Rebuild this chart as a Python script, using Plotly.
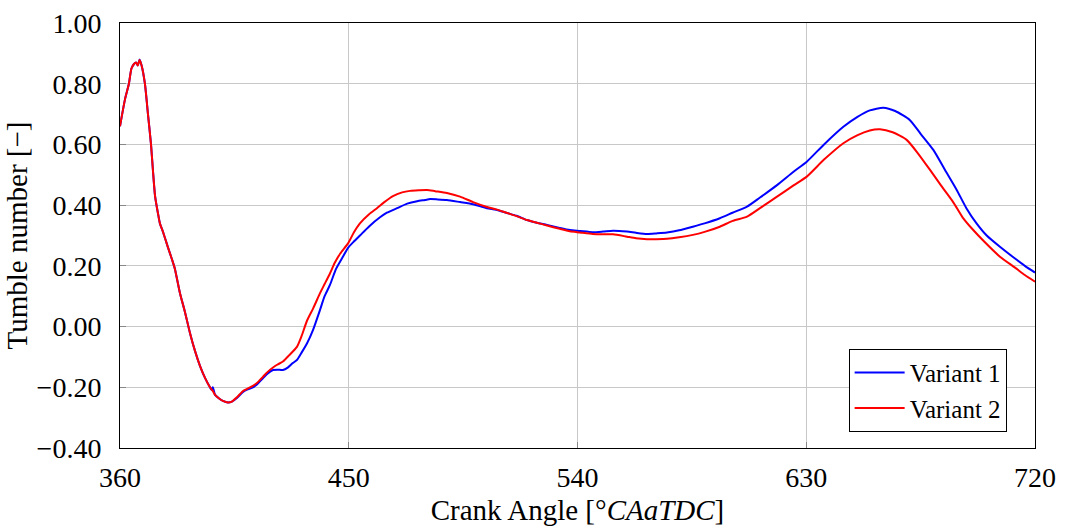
import plotly.graph_objects as go

# Variant 1 (blue)
x_v1 = [360, 362, 363.5, 364.5, 365.5, 366.3, 367, 367.7, 368.5, 369.8, 371, 372.2, 373, 373.8, 375,
        375.7, 377, 378.9, 380.5, 381.6, 383.6, 385.5, 387.5, 389.5, 391.5, 393.5, 395.4, 396, 396.5,
        397.4, 399, 400.5, 402.5, 404, 406, 408.4, 410, 412.3, 414, 416.3, 418, 420.2, 422, 424.1, 426,
        428, 429.6, 431.5, 433.6, 436, 438.7, 440.5, 442.6, 445, 447.7, 449.8, 452, 454.4, 458, 462.3,
        465, 469, 473, 476.9, 480, 482, 485, 488.6, 493.8, 498.9, 504.4, 508, 512.3, 516, 520.1, 524,
        528, 533, 537, 541, 546, 550, 554, 559.5, 563, 567.3, 571, 575.2, 580, 585.4, 590, 596, 601,
        606.7, 611.8, 618.5, 625, 630.2, 637, 644.6, 650, 655, 660.3, 665, 670.8, 675, 680, 685, 689.2,
        693, 697, 701, 706.2, 712, 716, 720]
y_v1 = [0.66, 0.75, 0.80, 0.85, 0.865, 0.87, 0.86, 0.88, 0.86, 0.80, 0.70, 0.60, 0.51, 0.43, 0.37,
        0.34, 0.31, 0.26, 0.22, 0.19, 0.11, 0.05, -0.02, -0.08, -0.13, -0.17, -0.20, -0.208, -0.2,
        -0.225, -0.237, -0.245, -0.25, -0.247, -0.235, -0.215, -0.208, -0.20, -0.19, -0.17, -0.155, -0.143, -0.142, -0.143, -0.135,
        -0.12, -0.11, -0.085, -0.055, -0.01, 0.055, 0.10, 0.137, 0.19, 0.23, 0.26, 0.28, 0.30, 0.33, 0.36,
        0.375, 0.39, 0.405, 0.413, 0.417, 0.42, 0.419, 0.417, 0.41, 0.403, 0.39, 0.385, 0.374, 0.365, 0.351, 0.342,
        0.335, 0.325, 0.318, 0.315, 0.311, 0.313, 0.316, 0.313, 0.309, 0.305, 0.307, 0.31, 0.317, 0.329, 0.34, 0.357, 0.375,
        0.395, 0.425, 0.466, 0.51, 0.543, 0.60, 0.658, 0.69, 0.712, 0.721, 0.71, 0.68, 0.635, 0.582, 0.51, 0.45,
        0.39, 0.34, 0.30, 0.263, 0.225, 0.20, 0.178]

# Variant 2 (red)
x_v2 = [360, 362, 363.5, 364.5, 365.5, 366.3, 367, 367.7, 368.5, 369.8, 371, 372.2, 373, 373.8, 375,
        375.7, 377, 378.9, 380.5, 381.6, 383.6, 385.5, 387.5, 389.5, 391.5, 393.5, 395.4, 396.5,
        397.4, 399, 400.5, 402.5, 404, 406, 408.4, 410, 412.3, 414, 416.3, 418, 420.2, 422, 424.1, 426.5,
        429.6, 431.5, 433.6, 436, 438.7, 440.5, 442.6, 444.5, 446.6, 449.8, 452, 454.4, 458, 461.1, 464,
        467.4, 471, 474.1, 477.5, 480.8, 484, 488.6, 493.8, 498.9, 504.4, 508, 512.3, 516, 520.1, 524,
        528, 533, 537, 541, 546, 550, 554, 559.5, 563, 567.3, 571, 575.2, 580, 585.4, 590, 596, 601,
        606.7, 611.8, 618.5, 625, 630.2, 637, 644.6, 650, 655, 659, 664, 669.5, 674, 678.7, 683, 687.8,
        691.5, 695.7, 700, 706.2, 712, 716, 720]
y_v2 = [0.66, 0.75, 0.80, 0.85, 0.865, 0.87, 0.86, 0.878, 0.86, 0.80, 0.70, 0.60, 0.51, 0.43, 0.37,
        0.34, 0.31, 0.26, 0.22, 0.19, 0.11, 0.05, -0.02, -0.08, -0.13, -0.17, -0.20, -0.212,
        -0.225, -0.237, -0.245, -0.25, -0.247, -0.233, -0.212, -0.205, -0.195, -0.185, -0.165, -0.15, -0.135, -0.125, -0.115, -0.095,
        -0.067, -0.03, 0.02, 0.06, 0.11, 0.14, 0.175, 0.21, 0.24, 0.275, 0.31, 0.34, 0.37, 0.39, 0.41,
        0.43, 0.442, 0.447, 0.449, 0.45, 0.446, 0.44, 0.428, 0.41, 0.394, 0.386, 0.374, 0.364, 0.351, 0.342,
        0.333, 0.322, 0.314, 0.31, 0.305, 0.304, 0.304, 0.296, 0.291, 0.288, 0.288, 0.289, 0.294, 0.302, 0.312, 0.329, 0.348,
        0.362, 0.39, 0.428, 0.465, 0.494, 0.55, 0.604, 0.63, 0.646, 0.65, 0.64, 0.615, 0.57, 0.516, 0.465, 0.41,
        0.36, 0.318, 0.28, 0.23, 0.195, 0.17, 0.148]

x_ticks = [360, 450, 540, 630, 720]
y_ticks = [-0.4, -0.2, 0.0, 0.2, 0.4, 0.6, 0.8, 1.0]
y_tick_text = ["\u22120.40", "\u22120.20", "0.00", "0.20", "0.40", "0.60", "0.80", "1.00"]

FONT = "Liberation Serif"

fig = go.Figure()
fig.add_trace(go.Scatter(x=x_v1, y=y_v1, mode="lines", name="Variant 1",
                         line=dict(color="#0000ff", width=2, shape="spline", smoothing=0.6)))
fig.add_trace(go.Scatter(x=x_v2, y=y_v2, mode="lines", name="Variant 2",
                         line=dict(color="#ff0000", width=2, shape="spline", smoothing=0.6)))

axis_common = dict(showline=True, linecolor="black", linewidth=1, mirror=True,
                   showgrid=True, gridcolor="#c8c8c8", gridwidth=1, zeroline=False,
                   ticks="inside", ticklen=6, tickcolor="#888888", automargin=False,
                   tickfont=dict(family=FONT, size=28, color="black"))

fig.update_layout(
    width=1066, height=527,
    margin=dict(l=120, r=31, t=23, b=79),
    paper_bgcolor="white", plot_bgcolor="white",
    font=dict(family=FONT, color="black"),
    xaxis=dict(range=[360, 720], tickvals=x_ticks, ticklabelstandoff=4,
               title=dict(text="Crank Angle [°<i>CAaTDC</i>]", font=dict(family=FONT, size=29), standoff=8),
               **axis_common),
    yaxis=dict(range=[-0.4, 1.0], tickvals=y_ticks, ticktext=y_tick_text, ticklabelstandoff=12,
               title=dict(text="Tumble number [\u2212]", font=dict(family=FONT, size=29), standoff=0),
               **axis_common),
    legend=dict(x=0.969, y=0.038, xanchor="right", yanchor="bottom",
                bgcolor="white", bordercolor="black", borderwidth=1, itemwidth=50,
                font=dict(family=FONT, size=25, color="black"), tracegroupgap=0),
    showlegend=True,
)

fig.write_html("out.html")
